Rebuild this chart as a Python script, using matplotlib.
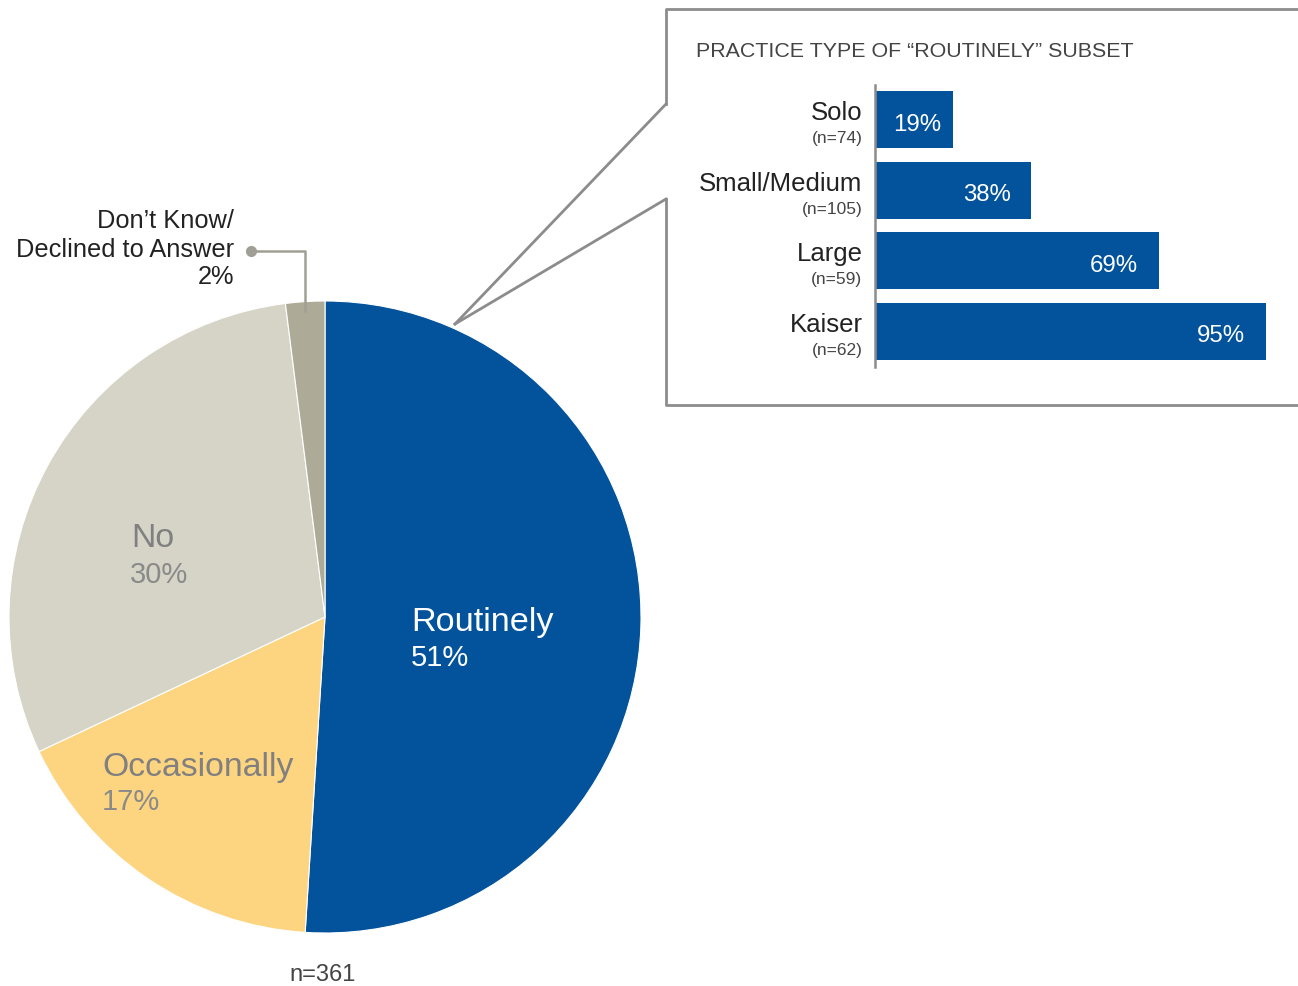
import matplotlib
matplotlib.use("Agg")
import matplotlib.pyplot as plt
from matplotlib.lines import Line2D

plt.rcParams['font.family'] = ['Liberation Sans', 'DejaVu Sans']

# ---- data ----
pie_labels = ["Routinely", "Occasionally", "No", "Don\u2019t Know/\nDeclined to Answer"]
pie_values = [51, 17, 30, 2]
pie_colors = ["#02529C", "#FDD580", "#D6D4C6", "#ADAB97"]

bar_cats = ["Solo", "Small/Medium", "Large", "Kaiser"]
bar_ns = ["(n=74)", "(n=105)", "(n=59)", "(n=62)"]
bar_values = [19, 38, 69, 95]
bar_title = "PRACTICE TYPE OF \u201cROUTINELY\u201d SUBSET"
total_n = "n=361"

W, H = 1298, 987
fig = plt.figure(figsize=(W / 100, H / 100), dpi=100)

# pixel-space axes (y measured from bottom)
ax = fig.add_axes([0, 0, 1, 1])
def py(y):
    return H - y

ax.pie(pie_values, colors=pie_colors, startangle=90, counterclock=False,
       center=(325, py(618)), radius=316, wedgeprops=dict(linewidth=0.8, edgecolor="white"))
ax.set_xlim(0, W)
ax.set_ylim(0, H)
ax.set_aspect("equal")
ax.axis("off")

# pie labels
ax.text(411, py(623), "Routinely", color="white", fontsize=24.7, ha="left", va="center")
ax.text(411, py(658), f"{pie_values[0]}%", color="white", fontsize=21, ha="left", va="center")
ax.text(102, py(768), "Occasionally", color="#808080", fontsize=24.3, ha="left", va="center")
ax.text(102, py(802), f"{pie_values[1]}%", color="#8a8a8a", fontsize=21, ha="left", va="center")
ax.text(131, py(539), "No", color="#808080", fontsize=24.3, ha="left", va="center")
ax.text(130, py(575), f"{pie_values[2]}%", color="#8a8a8a", fontsize=21, ha="left", va="center")

ax.text(234, py(221), "Don\u2019t Know/", color="#222222", fontsize=18.3, ha="right", va="center")
ax.text(234, py(250), "Declined to Answer", color="#222222", fontsize=18.3, ha="right", va="center")
ax.text(234, py(277), f"{pie_values[3]}%", color="#222222", fontsize=18.3, ha="right", va="center")

# DK leader line
ax.add_line(Line2D([251, 305, 305], [py(252), py(252), py(312)], color="#A09F95", lw=1.8))
ax.plot([251], [py(252)], marker="o", ms=7, color="#A09F95")

ax.text(323, py(975), total_n, color="#444444", fontsize=17, ha="center", va="center")

# callout box
box_col = "#8C8C8C"
ax.add_line(Line2D([666, 666, W + 5], [py(105), py(10), py(10)], color=box_col, lw=2))
ax.add_line(Line2D([666, 666, W + 5], [py(200), py(406), py(406)], color=box_col, lw=2))
ax.add_line(Line2D([455, 666], [py(325), py(105)], color=box_col, lw=2))
ax.add_line(Line2D([455, 666], [py(325), py(200)], color=box_col, lw=2))

ax.text(696, py(52), bar_title, color="#444444", fontsize=15.4, ha="left", va="center")

# bar chart axes
x0 = 875
px_per_pct = 391 / 95
top, bottom = 85.5, 367.5
bax = fig.add_axes([x0 / W, (H - bottom) / H, 100 * px_per_pct / W, (bottom - top) / H])
ypos = list(range(len(bar_cats)))
bax.barh(ypos, bar_values, height=0.81, color="#02529C")
bax.set_xlim(0, 100)
bax.set_ylim(len(bar_cats) - 0.5, -0.5)
for s in ["top", "right", "bottom"]:
    bax.spines[s].set_visible(False)
bax.spines["left"].set_color("#8C8C8C")
bax.spines["left"].set_linewidth(1.8)
bax.set_xticks([])
bax.set_yticks([])
bax.patch.set_alpha(0)
for i, (c, n, v) in enumerate(zip(bar_cats, bar_ns, bar_values)):
    bax.annotate(c, (0, i), xytext=(-9, 5.5), textcoords="offset points",
                 ha="right", va="center", fontsize=18.5, color="#222222")
    bax.annotate(n, (0, i), xytext=(-9, -13), textcoords="offset points",
                 ha="right", va="center", fontsize=12.5, color="#444444")
    if v < 25:
        bax.annotate(f"{v}%", (v / 2, i), xytext=(2, -3), textcoords="offset points",
                     ha="center", va="center", fontsize=17.3, color="white")
    else:
        bax.annotate(f"{v}%", (v, i), xytext=(-15, -3), textcoords="offset points",
                     ha="right", va="center", fontsize=17.3, color="white")

fig.savefig("out.png", dpi=100)
